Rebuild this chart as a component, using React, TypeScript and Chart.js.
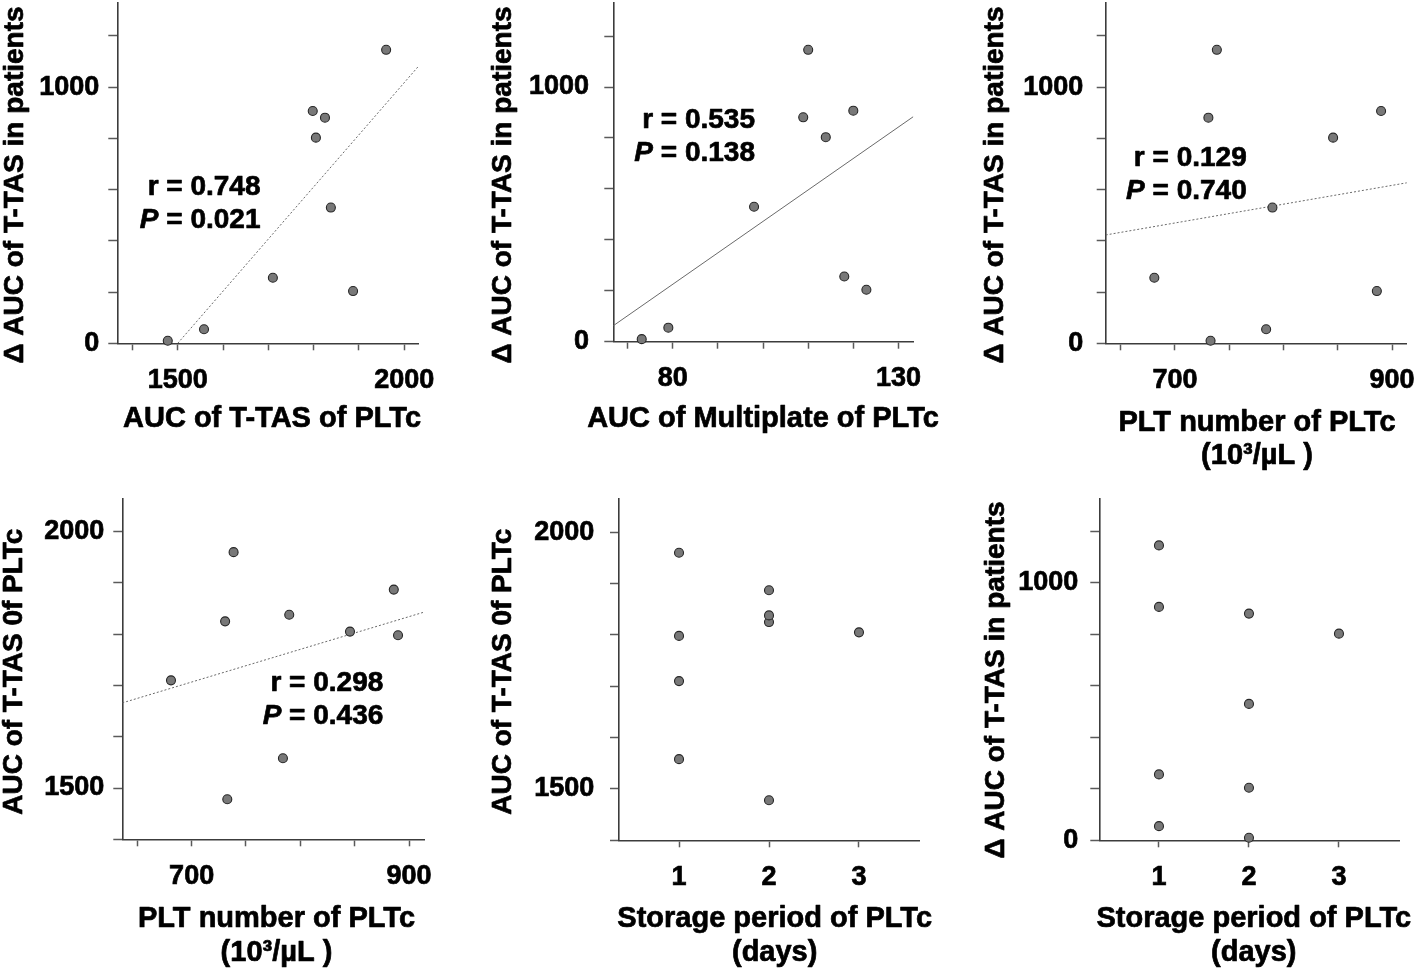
import React, { useEffect, useRef } from 'react';
import { Chart, registerables } from 'chart.js';

Chart.register(...registerables);

const FONT = "'Liberation Sans', Arial, Helvetica, sans-serif";
const STROKE = 0.7;

// ---- Data: 9 platelet concentrate (PLTc) / patient pairs ----
const tTasPLTc = [1478, 1558, 1710, 1798, 1825, 1805, 1838, 1887, 1960];
const deltaTTas = [10, 55, 256, 907, 881, 803, 530, 204, 1146];
const multiplatePLTc = [73.1, 79.0, 118.0, 120.0, 108.9, 113.9, 98.0, 122.9, 110.0];
const pltNumber = [732.8, 784.0, 681.0, 889.9, 730.8, 845.7, 789.8, 886.0, 738.6];
const storageDays = [2, 1, 1, 1, 2, 3, 2, 2, 1];

// ---- Regression line end points ----
const fitTTasX = [1500, 2031];
const fitTTasY = [0, 1081];
const fitMultiX = [66.8, 133.3];
const fitMultiY = [62.8, 883.5];
const fitPltDeltaX = [636.2, 914];
const fitPltDeltaY = [423, 627];
const fitPltTTasX = [636.2, 913.8];
const fitPltTTasY = [1666, 1843];

// ---- Correlation statistics ----
const rValues = ['0.748', '0.535', '0.129', '0.298'];
const pValues = ['0.021', '0.138', '0.740', '0.436'];

// ---- Tick values and labelled ticks ----
const deltaTicks = [0, 200, 400, 600, 800, 1000, 1200];
const deltaLabels = [0, 1000];
const tTasXTicks = [1400, 1500, 1600, 1700, 1800, 1900, 2000];
const tTasXLabels = [1500, 2000];
const multiTicks = [70, 80, 90, 100, 110, 120, 130];
const multiLabels = [80, 130];
const pltTicks = [650, 700, 750, 800, 850, 900];
const pltLabels = [700, 900];
const tTasYTicks = [1400, 1500, 1600, 1700, 1800, 1900, 2000];
const tTasYLabels = [1500, 2000];
const storageTicks = [1, 2, 3];
const storageLabels = [1, 2, 3];

const DELTA_TITLE = 'Δ AUC of T-TAS in patients';
const TTAS_Y_TITLE = 'AUC of T-TAS 0f PLTc';
const PLT_TITLE = ['PLT number of PLTc', '(10³/µL )'];
const STORAGE_TITLE = ['Storage period of PLTc', '(days)'];

type Panel = {
  box: { left: number; top: number; w: number; h: number };
  pad: { top: number; right: number };
  yW: number;
  xH: number;
  yTickPad: number;
  xs: number[];
  ys: number[];
  xMin: number; xMax: number; yMin: number; yMax: number;
  xTicks: number[]; xLabels: number[]; yTicks: number[]; yLabels: number[];
  xTitle: string[]; yTitle: string;
  xTitlePos: { cx: number; cy: number; gap: number };
  yTitlePos: { cx: number; cy: number };
  fitX?: number[]; fitY?: number[]; fitDash?: number[];
  stat?: { r: string; p: string; x: number; y: number; gap: number };
};

const panels: Panel[] = [
  {
    box: { left: 0, top: 0, w: 470, h: 470 }, pad: { top: 2.7, right: 51.7 },
    yW: 117.3, xH: 126.7, yTickPad: 9,
    xs: tTasPLTc, ys: deltaTTas,
    xMin: 1366.6, xMax: 2031, yMin: 0, yMax: 1330,
    xTicks: tTasXTicks, xLabels: tTasXLabels, yTicks: deltaTicks, yLabels: deltaLabels,
    xTitle: ['AUC of T-TAS of PLTc'], yTitle: DELTA_TITLE,
    xTitlePos: { cx: 272, cy: 418.7, gap: 34 }, yTitlePos: { cx: 15, cy: 185 },
    fitX: fitTTasX, fitY: fitTTasY, fitDash: [2, 2],
    stat: { r: rValues[0], p: pValues[0], x: 260.5, y: 195, gap: 33.3 },
  },
  {
    box: { left: 470, top: 0, w: 470, h: 470 }, pad: { top: 2.7, right: 26.7 },
    yW: 143.3, xH: 128.3, yTickPad: 15.3,
    xs: multiplatePLTc, ys: deltaTTas,
    xMin: 66.8, xMax: 133.3, yMin: 0, yMax: 1331,
    xTicks: multiTicks, xLabels: multiLabels, yTicks: deltaTicks, yLabels: deltaLabels,
    xTitle: ['AUC of Multiplate of PLTc'], yTitle: DELTA_TITLE,
    xTitlePos: { cx: 293, cy: 418.7, gap: 34 }, yTitlePos: { cx: 33, cy: 185 },
    fitX: fitMultiX, fitY: fitMultiY, fitDash: [],
    stat: { r: rValues[1], p: pValues[1], x: 285, y: 128.3, gap: 32.7 },
  },
  {
    box: { left: 940, top: 0, w: 478, h: 480 }, pad: { top: 2.7, right: 11.3 },
    yW: 165.7, xH: 136.7, yTickPad: 13.4,
    xs: pltNumber, ys: deltaTTas,
    xMin: 636.2, xMax: 913.5, yMin: 0, yMax: 1330,
    xTicks: pltTicks, xLabels: pltLabels, yTicks: deltaTicks, yLabels: deltaLabels,
    xTitle: PLT_TITLE, yTitle: DELTA_TITLE,
    xTitlePos: { cx: 317, cy: 422.5, gap: 33.8 }, yTitlePos: { cx: 55.5, cy: 185 },
    fitX: fitPltDeltaX, fitY: fitPltDeltaY, fitDash: [2, 2],
    stat: { r: rValues[2], p: pValues[2], x: 306.7, y: 165.7, gap: 33.3 },
  },
  {
    box: { left: 0, top: 480, w: 470, h: 488 }, pad: { top: 18.3, right: 46 },
    yW: 122.3, xH: 128.7, yTickPad: 9,
    xs: pltNumber, ys: tTasPLTc,
    xMin: 636.2, xMax: 913.8, yMin: 1400, yMax: 2065,
    xTicks: pltTicks, xLabels: pltLabels, yTicks: tTasYTicks, yLabels: tTasYLabels,
    xTitle: PLT_TITLE, yTitle: TTAS_Y_TITLE,
    xTitlePos: { cx: 276.5, cy: 439.3, gap: 34 }, yTitlePos: { cx: 14.5, cy: 191.7 },
    fitX: fitPltTTasX, fitY: fitPltTTasY, fitDash: [2, 2],
    stat: { r: rValues[3], p: pValues[3], x: 383.3, y: 210.7, gap: 33.3 },
  },
  {
    box: { left: 470, top: 480, w: 470, h: 488 }, pad: { top: 18.3, right: 21 },
    yW: 149, xH: 127.7, yTickPad: 15.7,
    xs: storageDays, ys: tTasPLTc,
    xMin: 0.333, xMax: 3.667, yMin: 1400, yMax: 2066,
    xTicks: storageTicks, xLabels: storageLabels, yTicks: tTasYTicks, yLabels: tTasYLabels,
    xTitle: STORAGE_TITLE, yTitle: TTAS_Y_TITLE,
    xTitlePos: { cx: 304.7, cy: 439, gap: 34 }, yTitlePos: { cx: 33, cy: 191.7 },
  },
  {
    box: { left: 940, top: 480, w: 478, h: 488 }, pad: { top: 18.3, right: 19 },
    yW: 159.3, xH: 127.7, yTickPad: 12,
    xs: storageDays, ys: deltaTTas,
    xMin: 0.337, xMax: 3.667, yMin: 0, yMax: 1329,
    xTicks: storageTicks, xLabels: storageLabels, yTicks: deltaTicks, yLabels: deltaLabels,
    xTitle: STORAGE_TITLE, yTitle: DELTA_TITLE,
    xTitlePos: { cx: 313.8, cy: 439, gap: 34 }, yTitlePos: { cx: 56.5, cy: 200 },
  },
];

function drawText(ctx: CanvasRenderingContext2D, text: string, x: number, y: number) {
  ctx.strokeText(text, x, y);
  ctx.fillText(text, x, y);
}

// Draws the r / P statistics block
const statsPlugin = {
  id: 'statsText',
  afterDatasetsDraw(chart: any, _args: any, opts: any) {
    if (!opts || !opts.r) return;
    const ctx = chart.ctx as CanvasRenderingContext2D;
    ctx.save();
    ctx.fillStyle = '#000';
    ctx.strokeStyle = '#000';
    ctx.lineWidth = STROKE;
    ctx.lineJoin = 'round';
    ctx.textBaseline = 'alphabetic';
    ctx.textAlign = 'right';
    ctx.font = `bold 28px ${FONT}`;
    drawText(ctx, `r = ${opts.r}`, opts.x, opts.y);
    const rest = ` = ${opts.p}`;
    drawText(ctx, rest, opts.x, opts.y + opts.gap);
    const w = ctx.measureText(rest).width;
    ctx.font = `italic bold 28px ${FONT}`;
    drawText(ctx, 'P', opts.x - w, opts.y + opts.gap);
    ctx.restore();
  },
};

// Draws axis titles (allowing them to be wider than the plot area)
const titlesPlugin = {
  id: 'panelTitles',
  afterDraw(chart: any, _args: any, opts: any) {
    if (!opts || !opts.x) return;
    const ctx = chart.ctx as CanvasRenderingContext2D;
    ctx.save();
    ctx.fillStyle = '#000';
    ctx.strokeStyle = '#000';
    ctx.lineWidth = STROKE;
    ctx.lineJoin = 'round';
    ctx.textAlign = 'center';
    ctx.textBaseline = 'middle';
    ctx.font = `bold 29px ${FONT}`;
    (opts.x.lines as string[]).forEach((line, i) => {
      drawText(ctx, line, opts.x.cx, opts.x.cy + i * opts.x.gap);
    });
    ctx.font = `bold 28px ${FONT}`;
    ctx.translate(opts.y.cx, opts.y.cy);
    ctx.rotate(-Math.PI / 2);
    drawText(ctx, opts.y.text, 0, 0);
    ctx.restore();
  },
};

function makeScale(
  axis: 'x' | 'y', min: number, max: number, ticks: number[], labels: number[],
  size: number, tickPad: number,
) {
  const isX = axis === 'x';
  return {
    type: 'linear',
    position: isX ? 'bottom' : 'left',
    min,
    max,
    afterBuildTicks: (s: any) => {
      s.ticks = ticks.map((v) => ({ value: v }));
    },
    afterFit: (s: any) => {
      if (isX) s.height = size; else s.width = size;
      s.paddingLeft = 0; s.paddingRight = 0; s.paddingTop = 0; s.paddingBottom = 0;
    },
    ticks: {
      autoSkip: false,
      maxRotation: 0,
      minRotation: 0,
      padding: tickPad,
      color: '#000',
      textStrokeColor: '#000',
      textStrokeWidth: STROKE,
      font: { family: FONT, size: 27, weight: 'bold', lineHeight: 1 },
      callback: (v: any) => (labels.includes(Number(v)) ? String(v) : ''),
    },
    grid: {
      display: true,
      drawOnChartArea: false,
      drawTicks: true,
      tickLength: isX ? 7 : 9,
      tickColor: '#5a5a5a',
      tickWidth: 1.5,
    },
    border: { display: true, color: '#3c3c3c', width: 1.6 },
    title: { display: false },
  };
}

function PanelChart({ p }: { p: Panel }) {
  const ref = useRef<HTMLCanvasElement | null>(null);
  useEffect(() => {
    if (!ref.current) return;
    const datasets: any[] = [
      {
        label: 'points',
        data: p.xs.map((x, i) => ({ x, y: p.ys[i] })),
        pointRadius: 4.5,
        pointHoverRadius: 4.5,
        backgroundColor: '#787878',
        borderColor: '#262626',
        borderWidth: 1.1,
        showLine: false,
        clip: false,
        order: 0,
      },
    ];
    if (p.fitX && p.fitY) {
      datasets.push({
        label: 'fit',
        data: p.fitX.map((x, i) => ({ x, y: p.fitY![i] })),
        showLine: true,
        pointRadius: 0,
        borderColor: '#6a6a6a',
        borderWidth: 1,
        borderDash: p.fitDash || [],
        fill: false,
        order: 1,
      });
    }
    const chart = new Chart(ref.current, {
      type: 'scatter',
      data: { datasets },
      plugins: [statsPlugin as any, titlesPlugin as any],
      options: {
        responsive: false,
        animation: false,
        events: [],
        layout: {
          autoPadding: false,
          padding: { left: 0, top: p.pad.top, right: p.pad.right, bottom: 0 },
        },
        plugins: {
          legend: { display: false },
          tooltip: { enabled: false },
          statsText: p.stat || {},
          panelTitles: {
            x: { lines: p.xTitle, ...p.xTitlePos },
            y: { text: p.yTitle, ...p.yTitlePos },
          },
        } as any,
        scales: {
          x: makeScale('x', p.xMin, p.xMax, p.xTicks, p.xLabels, p.xH, 16.5) as any,
          y: makeScale('y', p.yMin, p.yMax, p.yTicks, p.yLabels, p.yW, p.yTickPad) as any,
        },
      },
    });
    return () => chart.destroy();
  }, [p]);
  return (
    <canvas
      ref={ref}
      width={p.box.w}
      height={p.box.h}
      style={{ position: 'absolute', left: p.box.left, top: p.box.top, width: p.box.w, height: p.box.h }}
    />
  );
}

export default function App() {
  return (
    <div
      style={{
        position: 'absolute', left: 0, top: 0, width: 1418, height: 968,
        overflow: 'hidden', background: '#fff',
      }}
    >
      {panels.map((p, i) => (
        <PanelChart key={i} p={p} />
      ))}
    </div>
  );
}
